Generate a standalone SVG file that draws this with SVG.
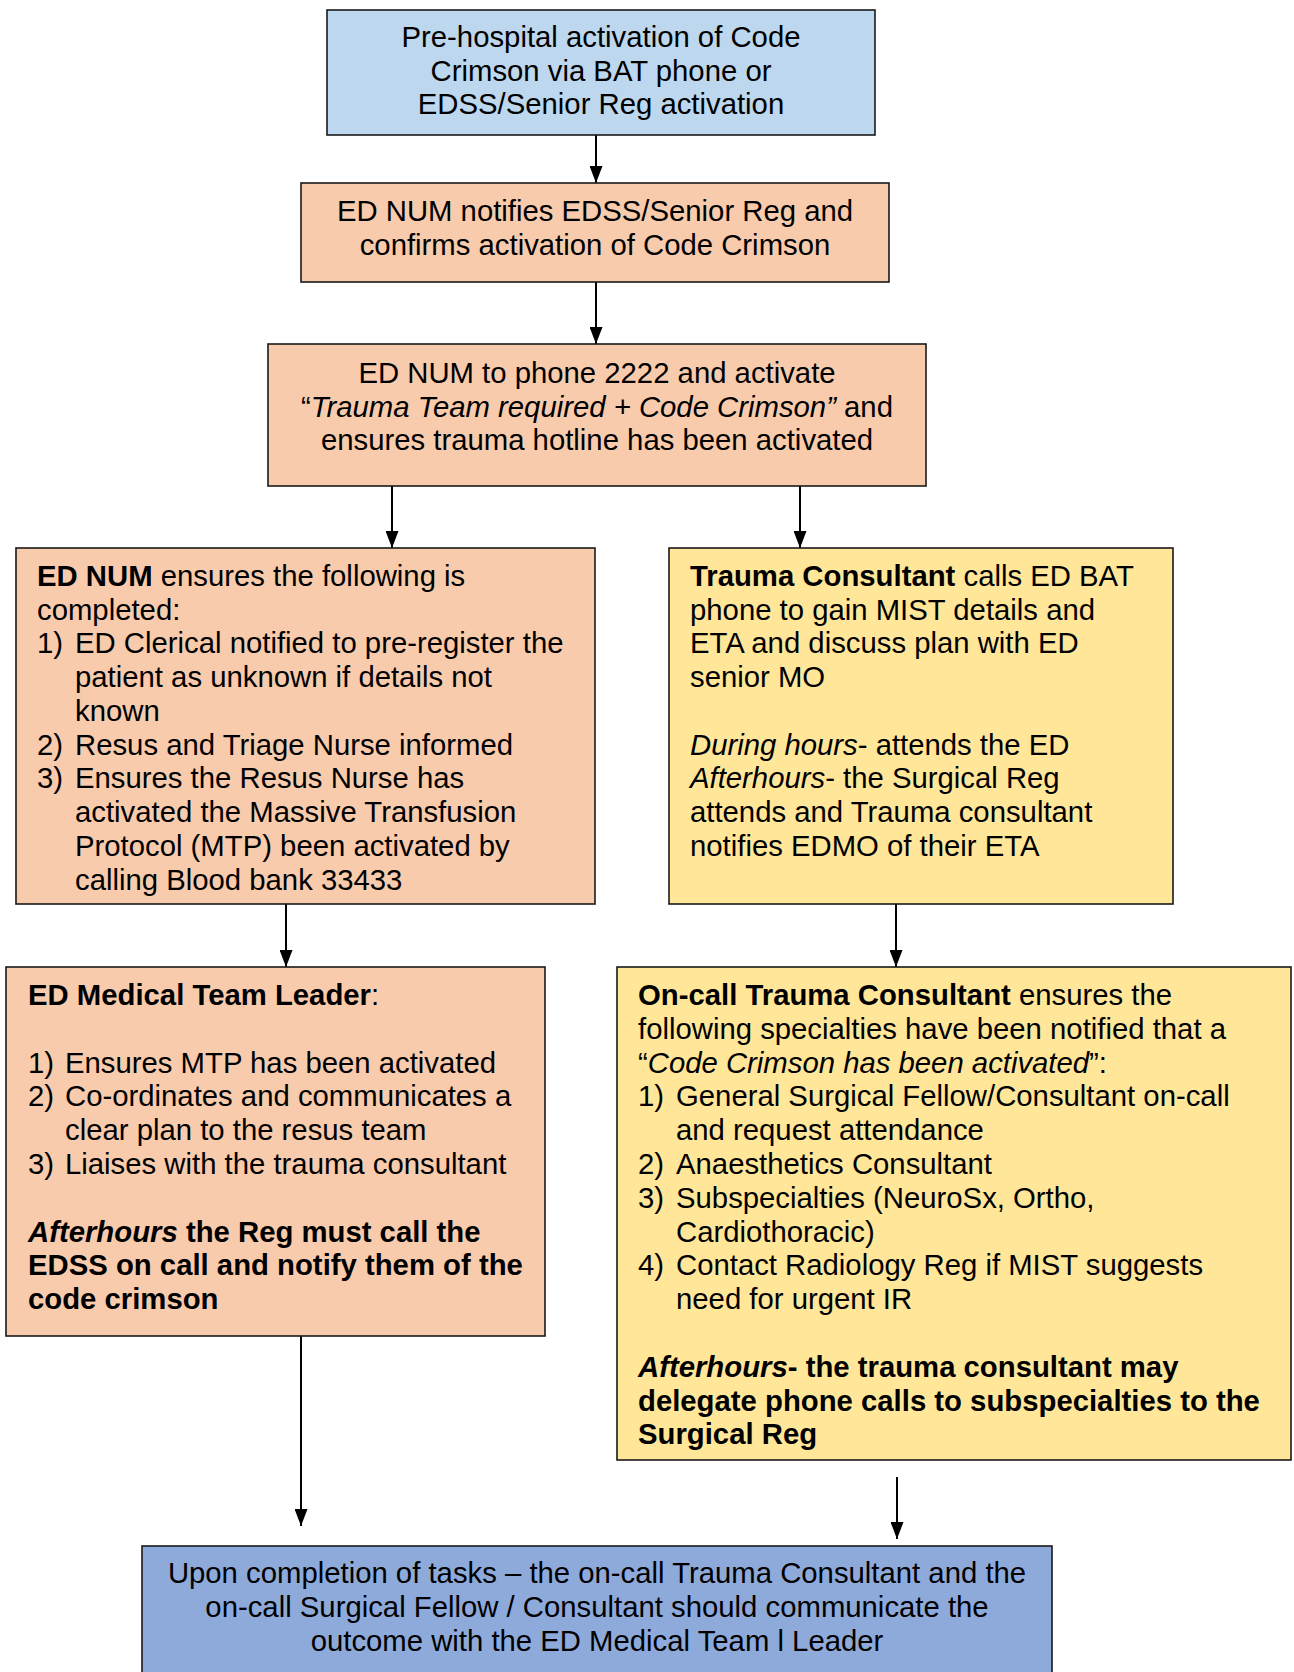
<svg xmlns="http://www.w3.org/2000/svg" width="1294" height="1672" viewBox="0 0 1294 1672">
<defs>
<style>
.box{stroke:#1a1a1a;stroke-width:1.6}
.blue{fill:#BDD7EE}
.peach{fill:#F8CBAD}
.yellow{fill:#FFE699}
.dblue{fill:#8EAADB}
text{font-family:"Liberation Sans",Arial,sans-serif;font-size:29.3px;fill:#000}
.c{text-anchor:middle}
.b{font-weight:bold}
.i{font-style:italic}
.conn line{stroke:#000;stroke-width:2;marker-end:url(#ah)}
</style>
<marker id="ah" markerWidth="17" markerHeight="13" refX="17" refY="6.5" orient="auto" markerUnits="userSpaceOnUse" viewBox="0 0 17 13">
<path d="M0,0 L17,6.5 L0,13 Z" fill="#000"/>
</marker>
</defs>
<rect width="1294" height="1672" fill="#fff"/>

<g class="conn" id="connectors">
<line x1="596" y1="122" x2="596" y2="183"/>
<line x1="596" y1="282" x2="596" y2="344"/>
<line x1="392" y1="486" x2="392" y2="548"/>
<line x1="800" y1="486" x2="800" y2="548"/>
<line x1="286" y1="904" x2="286" y2="967"/>
<line x1="896" y1="904" x2="896" y2="967"/>
<line x1="301" y1="1336" x2="301" y2="1526"/>
<line x1="897" y1="1477" x2="897" y2="1539"/>
</g>

<g id="n1">
<rect class="box blue" x="327" y="10" width="548" height="125"/>
<text class="c" x="601" y="47">Pre-hospital activation of Code</text>
<text class="c" x="601" y="81">Crimson via BAT phone or</text>
<text class="c" x="601" y="114">EDSS/Senior Reg activation</text>
</g>

<g id="n2">
<rect class="box peach" x="301" y="183" width="588" height="99"/>
<text class="c" x="595" y="221">ED NUM notifies EDSS/Senior Reg and</text>
<text class="c" x="595" y="255">confirms activation of Code Crimson</text>
</g>

<g id="n3">
<rect class="box peach" x="268" y="344" width="658" height="142"/>
<text class="c" x="597" y="383">ED NUM to phone 2222 and activate</text>
<text class="c" x="597" y="417">“<tspan class="i">Trauma Team required + Code Crimson”</tspan> and</text>
<text class="c" x="597" y="450">ensures trauma hotline has been activated</text>
</g>

<g id="n4">
<rect class="box peach" x="16" y="548" width="579" height="356"/>
<text x="37" y="586"><tspan class="b">ED NUM</tspan> ensures the following is</text>
<text x="37" y="620">completed:</text>
<text x="37" y="653">1)</text><text x="75" y="653">ED Clerical notified to pre-register the</text>
<text x="75" y="687">patient as unknown if details not</text>
<text x="75" y="721">known</text>
<text x="37" y="755">2)</text><text x="75" y="755">Resus and Triage Nurse informed</text>
<text x="37" y="788">3)</text><text x="75" y="788">Ensures the Resus Nurse has</text>
<text x="75" y="822">activated the Massive Transfusion</text>
<text x="75" y="856">Protocol (MTP) been activated by</text>
<text x="75" y="890">calling Blood bank 33433</text>
</g>

<g id="n5">
<rect class="box yellow" x="669" y="548" width="504" height="356"/>
<text x="690" y="586"><tspan class="b">Trauma Consultant</tspan> calls ED BAT</text>
<text x="690" y="620">phone to gain MIST details and</text>
<text x="690" y="653">ETA and discuss plan with ED</text>
<text x="690" y="687">senior MO</text>
<text x="690" y="755"><tspan class="i">During hours</tspan>- attends the ED</text>
<text x="690" y="788"><tspan class="i">Afterhours</tspan>- the Surgical Reg</text>
<text x="690" y="822">attends and Trauma consultant</text>
<text x="690" y="856">notifies EDMO of their ETA</text>
</g>

<g id="n6">
<rect class="box peach" x="6" y="967" width="539" height="369"/>
<text x="28" y="1005"><tspan class="b">ED Medical Team Leader</tspan>:</text>
<text x="28" y="1073">1)</text><text x="65" y="1073">Ensures MTP has been activated</text>
<text x="28" y="1106">2)</text><text x="65" y="1106">Co-ordinates and communicates a</text>
<text x="65" y="1140">clear plan to the resus team</text>
<text x="28" y="1174">3)</text><text x="65" y="1174">Liaises with the trauma consultant</text>
<text class="b" x="28" y="1242"><tspan class="i">Afterhours</tspan> the Reg must call the</text>
<text class="b" x="28" y="1275">EDSS on call and notify them of the</text>
<text class="b" x="28" y="1309">code crimson</text>
</g>

<g id="n7">
<rect class="box yellow" x="617" y="967" width="674" height="493"/>
<text x="638" y="1005"><tspan class="b">On-call Trauma Consultant</tspan> ensures the</text>
<text x="638" y="1039">following specialties have been notified that a</text>
<text x="638" y="1073">“<tspan class="i">Code Crimson has been activated</tspan>”:</text>
<text x="638" y="1106">1)</text><text x="676" y="1106">General Surgical Fellow/Consultant on-call</text>
<text x="676" y="1140">and request attendance</text>
<text x="638" y="1174">2)</text><text x="676" y="1174">Anaesthetics Consultant</text>
<text x="638" y="1208">3)</text><text x="676" y="1208">Subspecialties (NeuroSx, Ortho,</text>
<text x="676" y="1242">Cardiothoracic)</text>
<text x="638" y="1275">4)</text><text x="676" y="1275">Contact Radiology Reg if MIST suggests</text>
<text x="676" y="1309">need for urgent IR</text>
<text class="b" x="638" y="1377"><tspan class="i">Afterhours</tspan>- the trauma consultant may</text>
<text class="b" x="638" y="1411">delegate phone calls to subspecialties to the</text>
<text class="b" x="638" y="1444">Surgical Reg</text>
</g>

<g id="n8">
<rect class="box dblue" x="142" y="1546" width="910" height="140"/>
<text class="c" x="597" y="1583">Upon completion of tasks – the on-call Trauma Consultant and the</text>
<text class="c" x="597" y="1617">on-call Surgical Fellow / Consultant should communicate the</text>
<text class="c" x="597" y="1651">outcome with the ED Medical Team l Leader</text>
</g>
</svg>
